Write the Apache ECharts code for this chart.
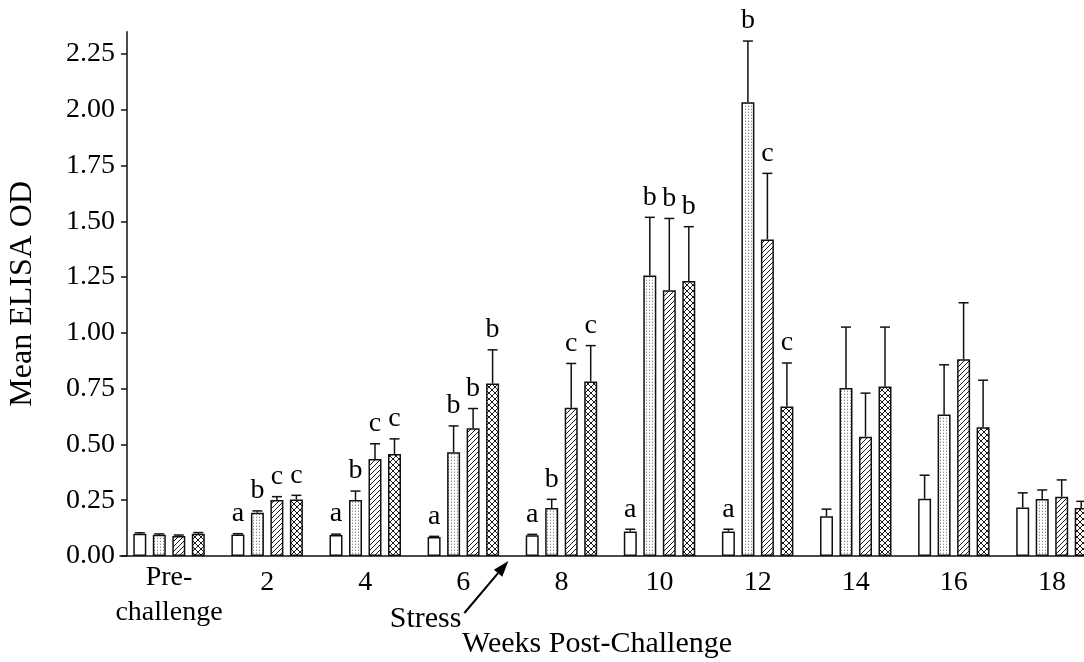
<!DOCTYPE html>
<html><head><meta charset="utf-8">
<script src="https://cdn.jsdelivr.net/npm/echarts@6/dist/echarts.min.js"></script>
<style>html,body{margin:0;padding:0;background:#fff}#c{width:1084px;height:662px}</style>
</head><body><div id="c"></div>
<script>
// ---- data ----
const categories = ['Pre-\nchallenge', '2', '4', '6', '8', '10', '12', '14', '16', '18'];
const yTicks = [0, 0.25, 0.5, 0.75, 1.0, 1.25, 1.5, 1.75, 2.0, 2.25];

const openMean    = [0.100, 0.096, 0.094, 0.085, 0.093, 0.110, 0.110, 0.178, 0.257, 0.217];
const openErr     = [0.004, 0.004, 0.004, 0.003, 0.004, 0.010, 0.010, 0.032, 0.105, 0.066];
const dottedMean  = [0.095, 0.194, 0.251, 0.465, 0.215, 1.257, 2.034, 0.753, 0.634, 0.256];
const dottedErr   = [0.004, 0.008, 0.040, 0.118, 0.039, 0.261, 0.274, 0.273, 0.223, 0.040];
const hatchedMean = [0.090, 0.251, 0.435, 0.573, 0.665, 1.191, 1.419, 0.535, 0.882, 0.266];
const hatchedErr  = [0.004, 0.015, 0.068, 0.088, 0.198, 0.322, 0.296, 0.195, 0.253, 0.075];
const crossMean   = [0.100, 0.253, 0.457, 0.773, 0.782, 1.233, 0.670, 0.760, 0.577, 0.215];
const crossErr    = [0.005, 0.019, 0.068, 0.151, 0.161, 0.243, 0.195, 0.266, 0.211, 0.030];

const openLetters    = ['', 'a', 'a', 'a', 'a', 'a', 'a', '', '', ''];
const dottedLetters  = ['', 'b', 'b', 'b', 'b', 'b', 'b', '', '', ''];
const hatchedLetters = ['', 'c', 'c', 'b', 'c', 'b', 'c', '', '', ''];
const crossLetters   = ['', 'c', 'c', 'b', 'c', 'b', 'c', '', '', ''];

// ---- styles ----
const FONT = '"Liberation Serif", "Times New Roman", serif';
const BAR_W = 13;
const PITCH = BAR_W * 1.5;

function makePattern(type) {
  const s = type === 'dots' ? 3 : (type === 'hatch' ? 5 : 6);
  const c = document.createElement('canvas');
  c.width = c.height = s;
  const g = c.getContext('2d');
  g.fillStyle = '#fff';
  g.fillRect(0, 0, s, s);
  if (type === 'dots') {
    g.fillStyle = '#8c8c8c';
    g.fillRect(1, 1, 1, 1);
    g.fillStyle = '#d4d4d4';
    g.fillRect(1, 0, 1, 1);
  } else {
    g.strokeStyle = '#1a1a1a';
    g.lineWidth = 1;
    for (const x0 of [-s, 0, s]) {
      g.beginPath(); g.moveTo(x0, s); g.lineTo(x0 + s, 0); g.stroke();
      if (type === 'cross') {
        g.beginPath(); g.moveTo(x0, 0); g.lineTo(x0 + s, s); g.stroke();
      }
    }
  }
  return { image: c, repeat: 'repeat' };
}

const groups = [
  { name: 'Group 1', mean: openMean,    err: openErr,    letters: openLetters,    fill: '#ffffff' },
  { name: 'Group 2', mean: dottedMean,  err: dottedErr,  letters: dottedLetters,  fill: makePattern('dots') },
  { name: 'Group 3', mean: hatchedMean, err: hatchedErr, letters: hatchedLetters, fill: makePattern('hatch') },
  { name: 'Group 4', mean: crossMean,   err: crossErr,   letters: crossLetters,   fill: makePattern('cross') }
];

const barSeries = groups.map(gr => ({
  type: 'bar',
  name: gr.name,
  data: gr.mean,
  barWidth: BAR_W,
  barGap: '50%',
  itemStyle: { color: gr.fill, borderColor: '#111', borderWidth: 1.5 },
  emphasis: { disabled: true }
}));

const errData = [];
const errLetters = [];
groups.forEach((gr, gi) => {
  gr.mean.forEach((m, ci) => {
    errData.push([ci, gi, m + gr.err[ci], m]);
    errLetters.push(gr.letters[ci]);
  });
});

const errSeries = {
  type: 'custom',
  name: 'error',
  data: errData,
  encode: { x: 0, y: 2 },
  z: 5,
  silent: true,
  clip: false,
  renderItem(params, api) {
    const cat = api.value(0), gi = api.value(1);
    const top = api.coord([cat, api.value(2)]);
    const base = api.coord([cat, api.value(3)]);
    const x = top[0] + (gi - 1.5) * PITCH;
    const st = { stroke: '#111', lineWidth: 1.5 };
    const children = [
      { type: 'line', shape: { x1: x, y1: base[1], x2: x, y2: top[1] }, style: st },
      { type: 'line', shape: { x1: x - 5, y1: top[1], x2: x + 5, y2: top[1] }, style: st }
    ];
    const letter = errLetters[params.dataIndex];
    if (letter) {
      children.push({
        type: 'text',
        style: { text: letter, x: x, y: top[1] - 6, align: 'center', verticalAlign: 'bottom',
                 font: '28px ' + FONT, fill: '#000' }
      });
    }
    return { type: 'group', children };
  }
};

const chart = echarts.init(document.getElementById('c'), null, { renderer: 'canvas' });
chart.setOption({
  animation: false,
  backgroundColor: '#fff',
  grid: { left: 120, top: 31.7, width: 981, height: 524.3, containLabel: false, outerBoundsMode: 'none' },
  xAxis: {
    type: 'category',
    data: categories,
    axisLine: { lineStyle: { color: '#111', width: 1.5 } },
    axisTick: { show: false },
    axisLabel: {
      interval: 0, margin: 4, color: '#000', fontFamily: FONT, fontSize: 28, lineHeight: 35,
      formatter: v => (v.indexOf('\n') >= 0 ? v : '{n|' + v + '}'),
      rich: { n: { fontFamily: FONT, fontSize: 28, lineHeight: 46, color: '#000' } }
    },
    name: 'Weeks Post-Challenge',
    nameLocation: 'middle',
    nameGap: 73,
    nameMoveOverlap: false,
    nameTextStyle: { color: '#000', fontFamily: FONT, fontSize: 30, padding: [0, 27, 0, 0] }
  },
  yAxis: {
    type: 'value',
    min: 0, max: 2.35, interval: 0.25,
    offset: -7,
    splitLine: { show: false },
    axisLine: { show: true, lineStyle: { color: '#111', width: 1.5 } },
    axisTick: { show: true, length: 6, customValues: yTicks, lineStyle: { color: '#111', width: 1.5 } },
    axisLabel: { customValues: yTicks, margin: 12, color: '#000', fontFamily: FONT, fontSize: 28,
                 formatter: v => Number(v).toFixed(2) },
    name: 'Mean ELISA OD',
    nameLocation: 'middle',
    nameRotate: 90,
    nameGap: 88,
    nameMoveOverlap: false,
    nameTextStyle: { color: '#000', fontFamily: FONT, fontSize: 32 }
  },
  series: [...barSeries, errSeries]
});

// Stress annotation: arrow pointing to the axis between week 6 and week 8
const p6 = chart.convertToPixel({ xAxisIndex: 0 }, '6');
const p8 = chart.convertToPixel({ xAxisIndex: 0 }, '8');
const y0 = chart.convertToPixel({ yAxisIndex: 0 }, 0);
const tipX = (p6 + p8) / 2 - 4, tipY = y0 + 5;
const tailX = tipX - 44, tailY = tipY + 52;
const dx = tipX - tailX, dy = tipY - tailY, L = Math.hypot(dx, dy);
const ux = dx / L, uy = dy / L, hl = 16, hw = 5.5;
const bx = tipX - ux * hl, by = tipY - uy * hl;
chart.setOption({
  graphic: [
    { type: 'line', shape: { x1: tailX, y1: tailY, x2: bx, y2: by }, style: { stroke: '#000', lineWidth: 2 } },
    { type: 'polygon', shape: { points: [[tipX, tipY], [bx - uy * hw, by + ux * hw], [bx + uy * hw, by - ux * hw]] },
      style: { fill: '#000' } },
    { type: 'text', x: tailX - 3, y: tailY + 6,
      style: { text: 'Stress', align: 'right', verticalAlign: 'middle', font: '30px ' + FONT, fill: '#000' } }
  ]
});
</script>
</body></html>
